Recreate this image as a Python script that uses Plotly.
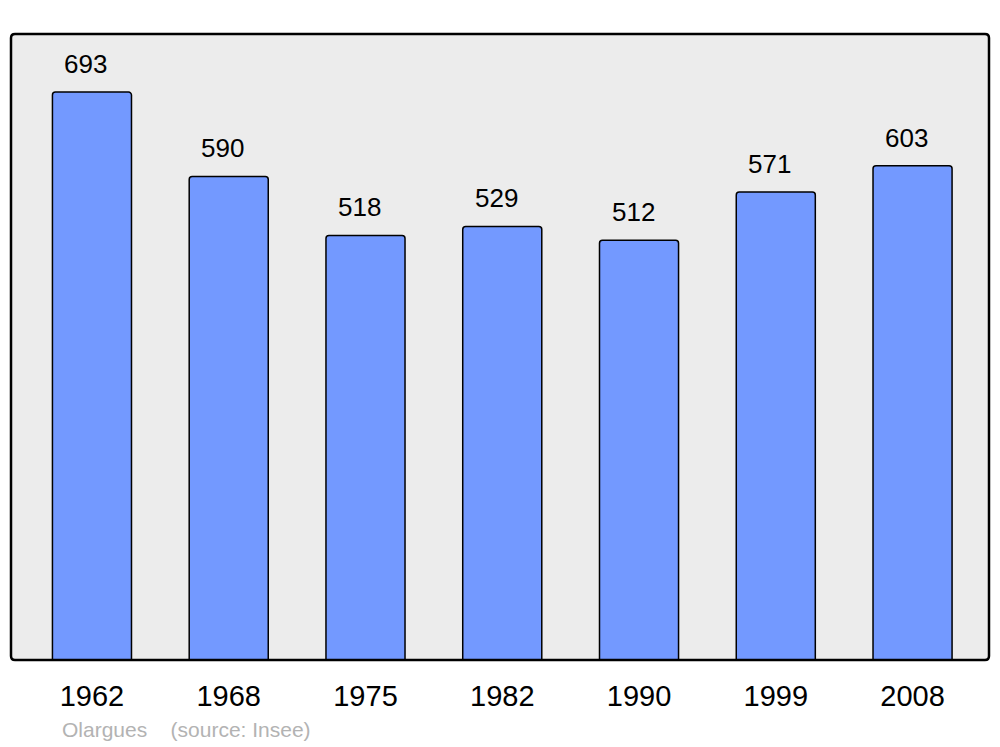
import plotly.graph_objects as go

years = ["1962", "1968", "1975", "1982", "1990", "1999", "2008"]
population = [693, 590, 518, 529, 512, 571, 603]
footer = "Olargues    (source: Insee)"

# the page adds an 8px body margin; compensate
W, H = 992, 739
ml, mr, mt, mb = 3, 11, 26, 87
pw, ph = W - ml - mr, H - mt - mb

xpos = list(range(len(years)))

fig = go.Figure()
fig.add_trace(go.Bar(
    x=xpos, y=population, width=0.578,
    marker=dict(color="#7399ff", line=dict(color="black", width=1.5)),
    hoverinfo="skip",
))

for x, v in zip(xpos, population):
    fig.add_annotation(x=x, y=v, text=str(v), showarrow=False, yanchor="bottom",
                       yshift=11, xshift=-6,
                       font=dict(size=26, color="black", family="Liberation Sans"))

fig.add_annotation(xref="paper", yref="paper", x=49 / pw, y=0, xanchor="left",
                   yanchor="top", yshift=-56, text=footer.replace(" ", "&nbsp;"), showarrow=False,
                   font=dict(size=21, color="#b3b3b3", family="Liberation Sans"))

# rounded border
rx, ry = 4 / pw, 4 / ph
path = (f"M {rx},0 L {1-rx},0 Q 1,0 1,{ry} L 1,{1-ry} Q 1,1 {1-rx},1 "
        f"L {rx},1 Q 0,1 0,{1-ry} L 0,{ry} Q 0,0 {rx},0 Z")
fig.add_shape(type="path", path=path, xref="paper", yref="paper",
              fillcolor="#ececec", line=dict(width=0), layer="below")
fig.add_shape(type="path", path=path, xref="paper", yref="paper",
              fillcolor="rgba(0,0,0,0)", line=dict(color="black", width=2.5), layer="above")

fig.update_layout(
    width=W, height=H,
    margin=dict(l=ml, r=mr, t=mt, b=mb),
    paper_bgcolor="white", plot_bgcolor="rgba(0,0,0,0)",
    showlegend=False, barcornerradius=3,
    font=dict(family="Liberation Sans"),
)
fig.update_xaxes(range=[-0.592, 6.559], tickvals=xpos, ticktext=years,
                 tickfont=dict(size=29, color="black"), showgrid=False, zeroline=False,
                 ticks="", ticklabelstandoff=16)
fig.update_yaxes(range=[0, 763.8], showticklabels=False, showgrid=False, zeroline=False)

fig.write_html("out.html")
